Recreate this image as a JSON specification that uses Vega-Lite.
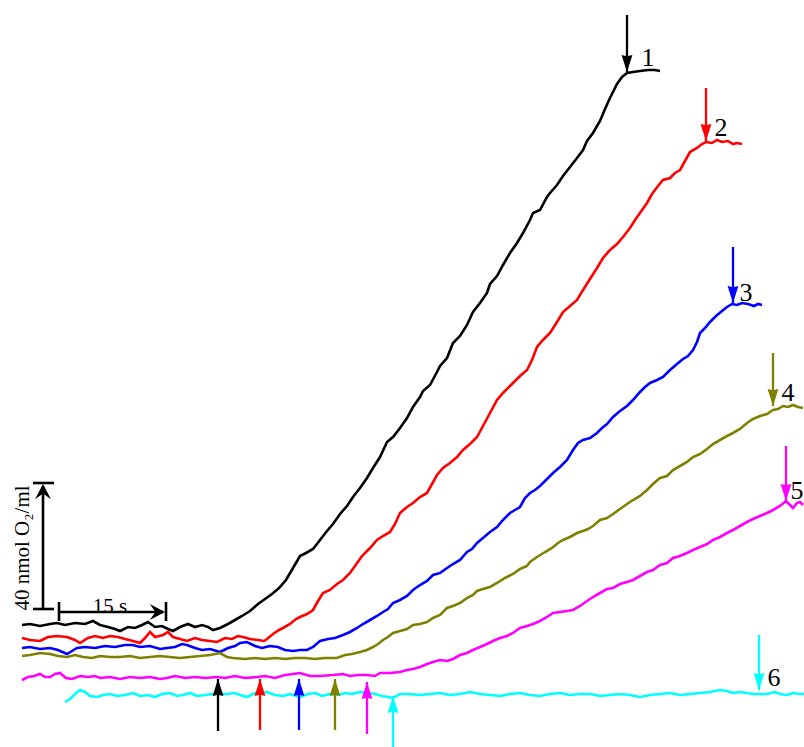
{
  "$schema": "https://vega.github.io/schema/vega-lite/v6.json",
  "width": 804,
  "height": 747,
  "padding": 0,
  "autosize": {"type": "none"},
  "background": "white",
  "config": {"view": {"stroke": null}},
  "datasets": {
    "traces": [
      {"s":"1","x":22,"y":625},{"s":"1","x":30,"y":624},{"s":"1","x":40,"y":626},{"s":"1","x":50,"y":624},{"s":"1","x":57,"y":623},{"s":"1","x":65,"y":625},{"s":"1","x":75,"y":623},{"s":"1","x":85,"y":624},{"s":"1","x":93,"y":621},{"s":"1","x":100,"y":625},{"s":"1","x":108,"y":627},{"s":"1","x":115,"y":629},{"s":"1","x":120,"y":631},{"s":"1","x":128,"y":627},{"s":"1","x":135,"y":628},{"s":"1","x":142,"y":625},{"s":"1","x":148,"y":622},{"s":"1","x":155,"y":627},{"s":"1","x":162,"y":626},{"s":"1","x":168,"y":629},{"s":"1","x":173,"y":631},{"s":"1","x":180,"y":627},{"s":"1","x":188,"y":624},{"s":"1","x":195,"y":627},{"s":"1","x":202,"y":625},{"s":"1","x":208,"y":627},{"s":"1","x":213,"y":630},{"s":"1","x":220,"y":628},{"s":"1","x":228,"y":624},{"s":"1","x":235,"y":620},{"s":"1","x":242,"y":616},{"s":"1","x":250,"y":611},{"s":"1","x":258,"y":604},{"s":"1","x":265,"y":599},{"s":"1","x":272,"y":594},{"s":"1","x":279,"y":588},{"s":"1","x":286,"y":580},{"s":"1","x":293,"y":568},{"s":"1","x":300,"y":556},{"s":"1","x":306,"y":553},{"s":"1","x":313,"y":549},{"s":"1","x":320,"y":540},{"s":"1","x":327,"y":531},{"s":"1","x":333,"y":524},{"s":"1","x":340,"y":514},{"s":"1","x":347,"y":506},{"s":"1","x":353,"y":497},{"s":"1","x":360,"y":488},{"s":"1","x":367,"y":478},{"s":"1","x":373,"y":468},{"s":"1","x":380,"y":457},{"s":"1","x":387,"y":442},{"s":"1","x":393,"y":437},{"s":"1","x":400,"y":428},{"s":"1","x":407,"y":418},{"s":"1","x":413,"y":407},{"s":"1","x":420,"y":397},{"s":"1","x":423,"y":391},{"s":"1","x":430,"y":385},{"s":"1","x":437,"y":372},{"s":"1","x":440,"y":366},{"s":"1","x":447,"y":358},{"s":"1","x":453,"y":343},{"s":"1","x":460,"y":336},{"s":"1","x":467,"y":325},{"s":"1","x":473,"y":312},{"s":"1","x":480,"y":303},{"s":"1","x":487,"y":293},{"s":"1","x":490,"y":284},{"s":"1","x":497,"y":276},{"s":"1","x":503,"y":265},{"s":"1","x":510,"y":253},{"s":"1","x":517,"y":243},{"s":"1","x":523,"y":233},{"s":"1","x":530,"y":220},{"s":"1","x":533,"y":213},{"s":"1","x":540,"y":210},{"s":"1","x":547,"y":197},{"s":"1","x":550,"y":193},{"s":"1","x":557,"y":185},{"s":"1","x":563,"y":176},{"s":"1","x":570,"y":167},{"s":"1","x":577,"y":158},{"s":"1","x":583,"y":150},{"s":"1","x":587,"y":141},{"s":"1","x":593,"y":133},{"s":"1","x":600,"y":121},{"s":"1","x":605,"y":109},{"s":"1","x":610,"y":98},{"s":"1","x":617,"y":84},{"s":"1","x":622,"y":77},{"s":"1","x":627,"y":73},{"s":"1","x":633,"y":72},{"s":"1","x":640,"y":71},{"s":"1","x":648,"y":70},{"s":"1","x":655,"y":70},{"s":"1","x":660,"y":71},

      {"s":"2","x":22,"y":638},{"s":"2","x":30,"y":640},{"s":"2","x":40,"y":641},{"s":"2","x":48,"y":637},{"s":"2","x":57,"y":636},{"s":"2","x":67,"y":637},{"s":"2","x":75,"y":640},{"s":"2","x":80,"y":643},{"s":"2","x":88,"y":638},{"s":"2","x":95,"y":636},{"s":"2","x":103,"y":638},{"s":"2","x":110,"y":636},{"s":"2","x":118,"y":637},{"s":"2","x":125,"y":639},{"s":"2","x":133,"y":641},{"s":"2","x":140,"y":643},{"s":"2","x":145,"y":638},{"s":"2","x":150,"y":632},{"s":"2","x":155,"y":637},{"s":"2","x":163,"y":635},{"s":"2","x":168,"y":632},{"s":"2","x":173,"y":637},{"s":"2","x":180,"y":639},{"s":"2","x":187,"y":641},{"s":"2","x":195,"y":638},{"s":"2","x":202,"y":640},{"s":"2","x":210,"y":641},{"s":"2","x":217,"y":642},{"s":"2","x":225,"y":638},{"s":"2","x":232,"y":639},{"s":"2","x":238,"y":636},{"s":"2","x":243,"y":637},{"s":"2","x":250,"y":639},{"s":"2","x":258,"y":640},{"s":"2","x":264,"y":641},{"s":"2","x":267,"y":639},{"s":"2","x":273,"y":634},{"s":"2","x":279,"y":630},{"s":"2","x":283,"y":628},{"s":"2","x":290,"y":624},{"s":"2","x":296,"y":619},{"s":"2","x":300,"y":617},{"s":"2","x":307,"y":614},{"s":"2","x":313,"y":610},{"s":"2","x":318,"y":601},{"s":"2","x":323,"y":593},{"s":"2","x":330,"y":590},{"s":"2","x":337,"y":584},{"s":"2","x":343,"y":580},{"s":"2","x":350,"y":573},{"s":"2","x":355,"y":566},{"s":"2","x":362,"y":556},{"s":"2","x":370,"y":548},{"s":"2","x":377,"y":540},{"s":"2","x":383,"y":536},{"s":"2","x":390,"y":532},{"s":"2","x":395,"y":524},{"s":"2","x":400,"y":513},{"s":"2","x":407,"y":507},{"s":"2","x":413,"y":503},{"s":"2","x":420,"y":497},{"s":"2","x":427,"y":493},{"s":"2","x":432,"y":484},{"s":"2","x":437,"y":475},{"s":"2","x":443,"y":468},{"s":"2","x":450,"y":463},{"s":"2","x":457,"y":457},{"s":"2","x":463,"y":450},{"s":"2","x":470,"y":444},{"s":"2","x":477,"y":437},{"s":"2","x":483,"y":426},{"s":"2","x":490,"y":413},{"s":"2","x":497,"y":400},{"s":"2","x":503,"y":393},{"s":"2","x":510,"y":386},{"s":"2","x":513,"y":383},{"s":"2","x":520,"y":376},{"s":"2","x":527,"y":370},{"s":"2","x":532,"y":360},{"s":"2","x":537,"y":347},{"s":"2","x":543,"y":340},{"s":"2","x":550,"y":333},{"s":"2","x":557,"y":322},{"s":"2","x":563,"y":312},{"s":"2","x":570,"y":306},{"s":"2","x":577,"y":300},{"s":"2","x":583,"y":290},{"s":"2","x":590,"y":279},{"s":"2","x":597,"y":268},{"s":"2","x":603,"y":258},{"s":"2","x":610,"y":250},{"s":"2","x":617,"y":244},{"s":"2","x":623,"y":237},{"s":"2","x":630,"y":228},{"s":"2","x":635,"y":220},{"s":"2","x":640,"y":213},{"s":"2","x":647,"y":203},{"s":"2","x":652,"y":194},{"s":"2","x":658,"y":186},{"s":"2","x":663,"y":180},{"s":"2","x":670,"y":178},{"s":"2","x":675,"y":173},{"s":"2","x":680,"y":170},{"s":"2","x":685,"y":161},{"s":"2","x":690,"y":152},{"s":"2","x":697,"y":148},{"s":"2","x":702,"y":144},{"s":"2","x":706,"y":142},{"s":"2","x":712,"y":143},{"s":"2","x":717,"y":140},{"s":"2","x":722,"y":142},{"s":"2","x":728,"y":141},{"s":"2","x":733,"y":144},{"s":"2","x":737,"y":143},{"s":"2","x":742,"y":144},

      {"s":"3","x":22,"y":648},{"s":"3","x":30,"y":647},{"s":"3","x":40,"y":649},{"s":"3","x":50,"y":648},{"s":"3","x":58,"y":650},{"s":"3","x":67,"y":654},{"s":"3","x":72,"y":651},{"s":"3","x":77,"y":648},{"s":"3","x":85,"y":647},{"s":"3","x":95,"y":648},{"s":"3","x":105,"y":646},{"s":"3","x":115,"y":647},{"s":"3","x":125,"y":645},{"s":"3","x":133,"y":645},{"s":"3","x":140,"y":647},{"s":"3","x":150,"y":646},{"s":"3","x":160,"y":649},{"s":"3","x":167,"y":648},{"s":"3","x":175,"y":647},{"s":"3","x":182,"y":644},{"s":"3","x":187,"y":645},{"s":"3","x":195,"y":648},{"s":"3","x":202,"y":650},{"s":"3","x":210,"y":649},{"s":"3","x":220,"y":652},{"s":"3","x":228,"y":648},{"s":"3","x":235,"y":646},{"s":"3","x":240,"y":643},{"s":"3","x":247,"y":642},{"s":"3","x":255,"y":646},{"s":"3","x":262,"y":648},{"s":"3","x":270,"y":646},{"s":"3","x":278,"y":647},{"s":"3","x":285,"y":650},{"s":"3","x":293,"y":651},{"s":"3","x":300,"y":650},{"s":"3","x":307,"y":650},{"s":"3","x":313,"y":647},{"s":"3","x":320,"y":641},{"s":"3","x":328,"y":639},{"s":"3","x":335,"y":638},{"s":"3","x":343,"y":635},{"s":"3","x":350,"y":632},{"s":"3","x":357,"y":628},{"s":"3","x":363,"y":624},{"s":"3","x":370,"y":620},{"s":"3","x":377,"y":616},{"s":"3","x":383,"y":612},{"s":"3","x":388,"y":609},{"s":"3","x":393,"y":603},{"s":"3","x":400,"y":600},{"s":"3","x":407,"y":596},{"s":"3","x":413,"y":590},{"s":"3","x":420,"y":585},{"s":"3","x":427,"y":581},{"s":"3","x":433,"y":575},{"s":"3","x":440,"y":573},{"s":"3","x":447,"y":568},{"s":"3","x":453,"y":564},{"s":"3","x":460,"y":560},{"s":"3","x":467,"y":552},{"s":"3","x":472,"y":549},{"s":"3","x":477,"y":543},{"s":"3","x":483,"y":538},{"s":"3","x":490,"y":532},{"s":"3","x":497,"y":527},{"s":"3","x":503,"y":520},{"s":"3","x":510,"y":513},{"s":"3","x":515,"y":510},{"s":"3","x":520,"y":507},{"s":"3","x":525,"y":498},{"s":"3","x":530,"y":493},{"s":"3","x":535,"y":490},{"s":"3","x":540,"y":486},{"s":"3","x":547,"y":479},{"s":"3","x":553,"y":473},{"s":"3","x":560,"y":467},{"s":"3","x":567,"y":460},{"s":"3","x":573,"y":450},{"s":"3","x":578,"y":443},{"s":"3","x":583,"y":440},{"s":"3","x":590,"y":438},{"s":"3","x":597,"y":433},{"s":"3","x":602,"y":428},{"s":"3","x":607,"y":424},{"s":"3","x":613,"y":417},{"s":"3","x":620,"y":411},{"s":"3","x":627,"y":406},{"s":"3","x":633,"y":400},{"s":"3","x":640,"y":392},{"s":"3","x":645,"y":387},{"s":"3","x":650,"y":383},{"s":"3","x":657,"y":380},{"s":"3","x":663,"y":377},{"s":"3","x":670,"y":370},{"s":"3","x":677,"y":364},{"s":"3","x":683,"y":359},{"s":"3","x":688,"y":356},{"s":"3","x":693,"y":350},{"s":"3","x":697,"y":342},{"s":"3","x":700,"y":333},{"s":"3","x":705,"y":328},{"s":"3","x":710,"y":322},{"s":"3","x":716,"y":316},{"s":"3","x":722,"y":311},{"s":"3","x":727,"y":307},{"s":"3","x":732,"y":304},{"s":"3","x":737,"y":305},{"s":"3","x":742,"y":303},{"s":"3","x":748,"y":304},{"s":"3","x":754,"y":306},{"s":"3","x":758,"y":304},{"s":"3","x":762,"y":305},

      {"s":"4","x":22,"y":656},{"s":"4","x":30,"y":655},{"s":"4","x":40,"y":653},{"s":"4","x":50,"y":654},{"s":"4","x":58,"y":656},{"s":"4","x":67,"y":657},{"s":"4","x":75,"y":655},{"s":"4","x":83,"y":657},{"s":"4","x":92,"y":658},{"s":"4","x":100,"y":656},{"s":"4","x":110,"y":657},{"s":"4","x":120,"y":657},{"s":"4","x":130,"y":656},{"s":"4","x":140,"y":658},{"s":"4","x":150,"y":657},{"s":"4","x":160,"y":656},{"s":"4","x":170,"y":657},{"s":"4","x":180,"y":658},{"s":"4","x":190,"y":657},{"s":"4","x":200,"y":656},{"s":"4","x":210,"y":655},{"s":"4","x":220,"y":653},{"s":"4","x":227,"y":657},{"s":"4","x":233,"y":658},{"s":"4","x":245,"y":659},{"s":"4","x":255,"y":658},{"s":"4","x":265,"y":659},{"s":"4","x":275,"y":658},{"s":"4","x":285,"y":659},{"s":"4","x":295,"y":658},{"s":"4","x":305,"y":658},{"s":"4","x":315,"y":659},{"s":"4","x":325,"y":658},{"s":"4","x":337,"y":658},{"s":"4","x":345,"y":655},{"s":"4","x":352,"y":654},{"s":"4","x":360,"y":652},{"s":"4","x":367,"y":650},{"s":"4","x":373,"y":647},{"s":"4","x":378,"y":644},{"s":"4","x":383,"y":640},{"s":"4","x":388,"y":637},{"s":"4","x":393,"y":633},{"s":"4","x":400,"y":631},{"s":"4","x":407,"y":629},{"s":"4","x":413,"y":625},{"s":"4","x":420,"y":624},{"s":"4","x":427,"y":622},{"s":"4","x":433,"y":618},{"s":"4","x":440,"y":615},{"s":"4","x":447,"y":608},{"s":"4","x":453,"y":606},{"s":"4","x":460,"y":603},{"s":"4","x":467,"y":598},{"s":"4","x":473,"y":595},{"s":"4","x":477,"y":591},{"s":"4","x":483,"y":589},{"s":"4","x":490,"y":587},{"s":"4","x":497,"y":583},{"s":"4","x":505,"y":578},{"s":"4","x":513,"y":574},{"s":"4","x":520,"y":569},{"s":"4","x":527,"y":566},{"s":"4","x":530,"y":562},{"s":"4","x":537,"y":557},{"s":"4","x":545,"y":552},{"s":"4","x":552,"y":548},{"s":"4","x":558,"y":543},{"s":"4","x":563,"y":540},{"s":"4","x":570,"y":537},{"s":"4","x":577,"y":533},{"s":"4","x":583,"y":531},{"s":"4","x":588,"y":529},{"s":"4","x":593,"y":526},{"s":"4","x":600,"y":520},{"s":"4","x":607,"y":518},{"s":"4","x":613,"y":514},{"s":"4","x":620,"y":509},{"s":"4","x":627,"y":504},{"s":"4","x":633,"y":500},{"s":"4","x":640,"y":496},{"s":"4","x":647,"y":490},{"s":"4","x":653,"y":484},{"s":"4","x":660,"y":478},{"s":"4","x":667,"y":476},{"s":"4","x":673,"y":470},{"s":"4","x":680,"y":466},{"s":"4","x":687,"y":462},{"s":"4","x":693,"y":457},{"s":"4","x":700,"y":454},{"s":"4","x":707,"y":449},{"s":"4","x":713,"y":444},{"s":"4","x":720,"y":440},{"s":"4","x":727,"y":436},{"s":"4","x":733,"y":433},{"s":"4","x":740,"y":429},{"s":"4","x":747,"y":423},{"s":"4","x":753,"y":419},{"s":"4","x":760,"y":416},{"s":"4","x":767,"y":414},{"s":"4","x":773,"y":410},{"s":"4","x":778,"y":409},{"s":"4","x":783,"y":406},{"s":"4","x":788,"y":407},{"s":"4","x":793,"y":405},{"s":"4","x":798,"y":407},{"s":"4","x":803,"y":408},

      {"s":"5","x":22,"y":680},{"s":"5","x":28,"y":677},{"s":"5","x":34,"y":676},{"s":"5","x":40,"y":674},{"s":"5","x":45,"y":677},{"s":"5","x":50,"y":677},{"s":"5","x":55,"y":674},{"s":"5","x":60,"y":673},{"s":"5","x":66,"y":678},{"s":"5","x":72,"y":679},{"s":"5","x":80,"y":676},{"s":"5","x":88,"y":677},{"s":"5","x":95,"y":676},{"s":"5","x":100,"y":678},{"s":"5","x":110,"y":677},{"s":"5","x":120,"y":679},{"s":"5","x":130,"y":677},{"s":"5","x":140,"y":678},{"s":"5","x":150,"y":677},{"s":"5","x":160,"y":679},{"s":"5","x":167,"y":678},{"s":"5","x":175,"y":676},{"s":"5","x":185,"y":678},{"s":"5","x":195,"y":677},{"s":"5","x":205,"y":678},{"s":"5","x":217,"y":677},{"s":"5","x":225,"y":678},{"s":"5","x":235,"y":676},{"s":"5","x":245,"y":678},{"s":"5","x":257,"y":677},{"s":"5","x":265,"y":676},{"s":"5","x":275,"y":678},{"s":"5","x":285,"y":675},{"s":"5","x":293,"y":674},{"s":"5","x":300,"y":673},{"s":"5","x":310,"y":676},{"s":"5","x":320,"y":676},{"s":"5","x":333,"y":675},{"s":"5","x":343,"y":674},{"s":"5","x":350,"y":676},{"s":"5","x":358,"y":675},{"s":"5","x":367,"y":675},{"s":"5","x":375,"y":676},{"s":"5","x":380,"y":673},{"s":"5","x":390,"y":673},{"s":"5","x":400,"y":672},{"s":"5","x":407,"y":670},{"s":"5","x":413,"y":669},{"s":"5","x":420,"y":667},{"s":"5","x":427,"y":664},{"s":"5","x":433,"y":662},{"s":"5","x":440,"y":660},{"s":"5","x":447,"y":661},{"s":"5","x":453,"y":659},{"s":"5","x":460,"y":655},{"s":"5","x":467,"y":653},{"s":"5","x":473,"y":650},{"s":"5","x":480,"y":647},{"s":"5","x":487,"y":644},{"s":"5","x":493,"y":641},{"s":"5","x":500,"y":638},{"s":"5","x":507,"y":636},{"s":"5","x":513,"y":633},{"s":"5","x":520,"y":628},{"s":"5","x":527,"y":626},{"s":"5","x":533,"y":624},{"s":"5","x":540,"y":621},{"s":"5","x":547,"y":617},{"s":"5","x":553,"y":613},{"s":"5","x":560,"y":612},{"s":"5","x":567,"y":611},{"s":"5","x":573,"y":610},{"s":"5","x":580,"y":606},{"s":"5","x":587,"y":601},{"s":"5","x":593,"y":597},{"s":"5","x":600,"y":593},{"s":"5","x":607,"y":589},{"s":"5","x":613,"y":588},{"s":"5","x":620,"y":584},{"s":"5","x":627,"y":582},{"s":"5","x":633,"y":580},{"s":"5","x":640,"y":576},{"s":"5","x":647,"y":572},{"s":"5","x":653,"y":570},{"s":"5","x":660,"y":565},{"s":"5","x":667,"y":563},{"s":"5","x":673,"y":558},{"s":"5","x":680,"y":556},{"s":"5","x":687,"y":553},{"s":"5","x":693,"y":550},{"s":"5","x":700,"y":547},{"s":"5","x":707,"y":544},{"s":"5","x":713,"y":540},{"s":"5","x":720,"y":537},{"s":"5","x":727,"y":533},{"s":"5","x":733,"y":530},{"s":"5","x":740,"y":526},{"s":"5","x":747,"y":522},{"s":"5","x":753,"y":519},{"s":"5","x":760,"y":516},{"s":"5","x":767,"y":513},{"s":"5","x":773,"y":510},{"s":"5","x":780,"y":506},{"s":"5","x":786,"y":501},{"s":"5","x":790,"y":505},{"s":"5","x":793,"y":508},{"s":"5","x":797,"y":503},{"s":"5","x":800,"y":502},{"s":"5","x":803,"y":505},

      {"s":"6","x":65,"y":702},{"s":"6","x":70,"y":699},{"s":"6","x":75,"y":694},{"s":"6","x":80,"y":690},{"s":"6","x":85,"y":692},{"s":"6","x":90,"y":696},{"s":"6","x":97,"y":697},{"s":"6","x":103,"y":695},{"s":"6","x":110,"y":694},{"s":"6","x":117,"y":696},{"s":"6","x":125,"y":695},{"s":"6","x":133,"y":693},{"s":"6","x":140,"y":696},{"s":"6","x":148,"y":695},{"s":"6","x":155,"y":697},{"s":"6","x":162,"y":694},{"s":"6","x":170,"y":693},{"s":"6","x":177,"y":696},{"s":"6","x":183,"y":695},{"s":"6","x":190,"y":693},{"s":"6","x":197,"y":696},{"s":"6","x":205,"y":695},{"s":"6","x":213,"y":694},{"s":"6","x":220,"y":694},{"s":"6","x":227,"y":694},{"s":"6","x":235,"y":693},{"s":"6","x":240,"y":695},{"s":"6","x":247,"y":697},{"s":"6","x":255,"y":693},{"s":"6","x":262,"y":693},{"s":"6","x":267,"y":692},{"s":"6","x":275,"y":695},{"s":"6","x":283,"y":696},{"s":"6","x":290,"y":694},{"s":"6","x":300,"y":697},{"s":"6","x":308,"y":694},{"s":"6","x":315,"y":693},{"s":"6","x":322,"y":696},{"s":"6","x":330,"y":694},{"s":"6","x":338,"y":695},{"s":"6","x":345,"y":693},{"s":"6","x":352,"y":694},{"s":"6","x":360,"y":692},{"s":"6","x":367,"y":693},{"s":"6","x":375,"y":694},{"s":"6","x":382,"y":696},{"s":"6","x":388,"y":697},{"s":"6","x":393,"y":698},{"s":"6","x":400,"y":694},{"s":"6","x":410,"y":694},{"s":"6","x":420,"y":695},{"s":"6","x":430,"y":694},{"s":"6","x":440,"y":693},{"s":"6","x":450,"y":695},{"s":"6","x":460,"y":694},{"s":"6","x":470,"y":692},{"s":"6","x":480,"y":694},{"s":"6","x":490,"y":695},{"s":"6","x":500,"y":696},{"s":"6","x":510,"y":694},{"s":"6","x":520,"y":693},{"s":"6","x":530,"y":695},{"s":"6","x":540,"y":696},{"s":"6","x":550,"y":694},{"s":"6","x":560,"y":693},{"s":"6","x":570,"y":695},{"s":"6","x":580,"y":694},{"s":"6","x":590,"y":694},{"s":"6","x":600,"y":696},{"s":"6","x":610,"y":695},{"s":"6","x":620,"y":694},{"s":"6","x":630,"y":695},{"s":"6","x":640,"y":697},{"s":"6","x":650,"y":695},{"s":"6","x":660,"y":694},{"s":"6","x":670,"y":693},{"s":"6","x":680,"y":695},{"s":"6","x":690,"y":694},{"s":"6","x":700,"y":693},{"s":"6","x":710,"y":692},{"s":"6","x":720,"y":690},{"s":"6","x":727,"y":691},{"s":"6","x":733,"y":693},{"s":"6","x":740,"y":692},{"s":"6","x":747,"y":693},{"s":"6","x":753,"y":694},{"s":"6","x":760,"y":694},{"s":"6","x":767,"y":694},{"s":"6","x":775,"y":692},{"s":"6","x":780,"y":694},{"s":"6","x":787,"y":695},{"s":"6","x":793,"y":693},{"s":"6","x":800,"y":694},{"s":"6","x":804,"y":694}
    ],
    "arrows": [
      {"s":"1","x":627,"tail":15,"tip":72,"dir":"down"},
      {"s":"2","x":706,"tail":88,"tip":141,"dir":"down"},
      {"s":"3","x":733,"tail":247,"tip":303,"dir":"down"},
      {"s":"4","x":773,"tail":353,"tip":406,"dir":"down"},
      {"s":"5","x":786,"tail":446,"tip":501,"dir":"down"},
      {"s":"6","x":759,"tail":635,"tip":690,"dir":"down"},
      {"s":"1","x":218,"tail":731,"tip":679,"dir":"up"},
      {"s":"2","x":260,"tail":730,"tip":679,"dir":"up"},
      {"s":"3","x":299,"tail":730,"tip":679,"dir":"up"},
      {"s":"4","x":335,"tail":730,"tip":679,"dir":"up"},
      {"s":"5","x":367,"tail":734,"tip":682,"dir":"up"},
      {"s":"6","x":393,"tail":747,"tip":696,"dir":"up"}
    ],
    "labels": [
      {"x":648,"y":66,"t":"1"},
      {"x":721,"y":136,"t":"2"},
      {"x":746,"y":301,"t":"3"},
      {"x":788,"y":401,"t":"4"},
      {"x":797,"y":499,"t":"5"},
      {"x":774,"y":686,"t":"6"}
    ],
    "bars": [
      {"x":43,"y":609,"x2":43,"y2":486},
      {"x":33,"y":483,"x2":54,"y2":483},
      {"x":33,"y":609,"x2":54,"y2":609},
      {"x":59,"y":612,"x2":163,"y2":612},
      {"x":59,"y":602,"x2":59,"y2":621},
      {"x":166,"y":602,"x2":166,"y2":621}
    ],
    "barheads": [
      {"x":43,"y":484,"dir":"bup"},
      {"x":165,"y":612,"dir":"bright"}
    ],
    "bartext": [
      {"x":110,"y":607,"t":"15 s","a":0},
      {"x":23,"y":548,"t":"40 nmol O₂/ml","a":270}
    ]
  },
  "layer": [
    {
      "data": {"name": "traces"},
      "mark": {"type": "line", "strokeWidth": 2.6, "interpolate": "linear"},
      "encoding": {
        "x": {"field": "x", "type": "quantitative", "scale": {"domain": [0, 804], "nice": false, "zero": false}, "axis": null},
        "y": {"field": "y", "type": "quantitative", "scale": {"domain": [0, 747], "nice": false, "zero": false, "reverse": true}, "axis": null},
        "color": {"field": "s", "type": "nominal", "scale": {"domain": ["1","2","3","4","5","6"], "range": ["#000000","#ff0000","#0000ff","#808000","#ff00ff","#00ffff"]}, "legend": null},
        "detail": {"field": "s"}
      }
    },
    {
      "data": {"name": "arrows"},
      "mark": {"type": "rule", "strokeWidth": 2.3},
      "encoding": {
        "x": {"field": "x", "type": "quantitative"},
        "y": {"field": "tail", "type": "quantitative"},
        "y2": {"field": "tip"},
        "color": {"field": "s", "type": "nominal", "legend": null}
      }
    },
    {
      "data": {"name": "arrows"},
      "mark": {"type": "point", "filled": true, "opacity": 1, "size": 324, "strokeWidth": 0},
      "encoding": {
        "x": {"field": "x", "type": "quantitative"},
        "y": {"field": "tip", "type": "quantitative"},
        "color": {"field": "s", "type": "nominal", "legend": null},
        "shape": {"field": "dir", "type": "nominal", "scale": {"domain": ["up","down"], "range": ["M0,0 L0.6,1.9 L0,1.75 L-0.6,1.9 Z", "M0,0 L0.6,-1.9 L0,-1.75 L-0.6,-1.9 Z"]}, "legend": null}
      }
    },
    {
      "data": {"name": "labels"},
      "mark": {"type": "text", "font": "Liberation Serif", "fontSize": 26, "color": "#000000", "align": "center", "baseline": "alphabetic"},
      "encoding": {
        "x": {"field": "x", "type": "quantitative"},
        "y": {"field": "y", "type": "quantitative"},
        "text": {"field": "t"}
      }
    },
    {
      "data": {"name": "bars"},
      "mark": {"type": "rule", "strokeWidth": 2.6, "color": "#000000"},
      "encoding": {
        "x": {"field": "x", "type": "quantitative"},
        "y": {"field": "y", "type": "quantitative"},
        "x2": {"field": "x2"},
        "y2": {"field": "y2"}
      }
    },
    {
      "data": {"name": "barheads"},
      "mark": {"type": "point", "filled": true, "opacity": 1, "size": 256, "strokeWidth": 0, "color": "#000000"},
      "encoding": {
        "x": {"field": "x", "type": "quantitative"},
        "y": {"field": "y", "type": "quantitative"},
        "shape": {"field": "dir", "type": "nominal", "scale": {"domain": ["bup","bright"], "range": ["M0,0 L1,1.9 L0,1.2 L-1,1.9 Z", "M0,0 L-1.9,-1 L-1.2,0 L-1.9,1 Z"]}, "legend": null}
      }
    },
    {
      "data": {"name": "bartext"},
      "mark": {"type": "text", "font": "Liberation Serif", "fontSize": 21, "color": "#000000", "align": "center"},
      "encoding": {
        "x": {"field": "x", "type": "quantitative"},
        "y": {"field": "y", "type": "quantitative"},
        "text": {"field": "t"},
        "angle": {"field": "a", "type": "quantitative", "scale": null},
        "baseline": {"value": "alphabetic"}
      }
    }
  ],
  "resolve": {"scale": {"shape": "independent"}}
}
